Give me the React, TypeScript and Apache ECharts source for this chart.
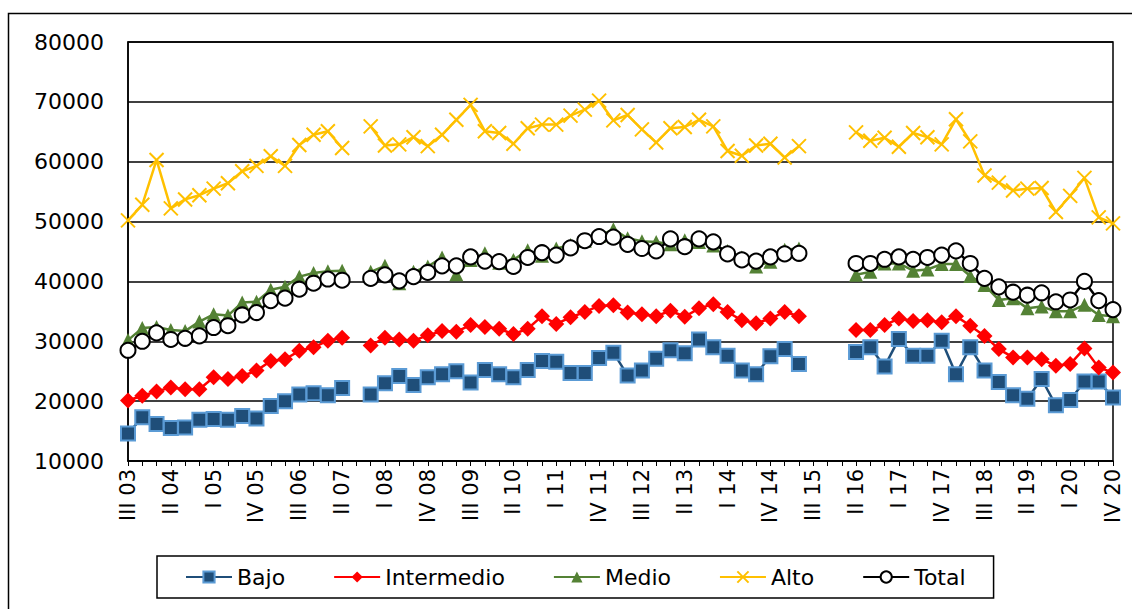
import React, { useEffect, useRef } from "react";
import * as echarts from "echarts";

const romans = ["I", "II", "III", "IV"];
const categories: string[] = [];
for (let i = 0; i < 70; i++) {
  const q = (2 + i) % 4;
  const y = 2003 + Math.floor((2 + i) / 4);
  categories.push(romans[q] + " " + String(y % 100).padStart(2, "0"));
}

const N = null;
const bajo = [14600, 17300, 16200, 15500, 15600, 16900, 17000, 16900, 17500, 17100, 19200, 20000, 21100, 21300, 21000, 22200, N,
  21100, 23000, 24200, 22700, 24000, 24500, 25000, 23100, 25200, 24500, 24000, 25200, 26700, 26600, 24700, 24700, 27200, 28100,
  24300, 25100, 27100, 28500, 28000, 30300, 29000, 27600, 25100, 24500, 27500, 28700, 26200, N, N, N,
  28200, 29000, 25800, 30400, 27600, 27600, 30100, 24500, 29000, 25100, 23200, 21000, 20400, 23700, 19300, 20200, 23300, 23300, 20600];
const intermedio = [20100, 20900, 21600, 22300, 22000, 22000, 24000, 23700, 24200, 25100, 26700, 27000, 28400, 29000, 30100, 30600, N,
  29300, 30600, 30300, 30100, 31000, 31700, 31600, 32700, 32400, 32100, 31200, 32100, 34200, 32900, 34000, 34900, 35900, 36000,
  34800, 34500, 34200, 35100, 34100, 35500, 36200, 34900, 33500, 33000, 33800, 34900, 34200, N, N, N,
  31900, 31900, 32700, 33800, 33400, 33500, 33200, 34200, 32600, 30900, 28700, 27300, 27300, 27000, 25900, 26200, 28800, 25600, 24800];
const medio = [30200, 32200, 32400, 31900, 31700, 33300, 34500, 34300, 36500, 36600, 38600, 39100, 40800, 41400, 41700, 41800, N,
  41600, 42600, 39700, 41600, 42500, 44000, 41200, 43600, 44700, 43100, 43600, 45200, 44300, 45500, 46100, 46800, 47600, 48700,
  47200, 46700, 46600, 46200, 46900, 46600, 46000, 45100, 44000, 42500, 43300, 45300, 45500, N, N, N,
  41100, 41600, 43000, 43000, 41800, 42000, 42900, 42900, 40900, 39400, 36900, 37200, 35500, 35800, 35000, 35000, 36100, 34400, 34200];
const alto = [50200, 52800, 60300, 52200, 53700, 54400, 55500, 56400, 58400, 59300, 60900, 59300, 62800, 64500, 65100, 62300, N,
  65900, 62700, 62900, 64100, 62600, 64500, 67000, 69500, 65100, 64800, 63000, 65600, 66200, 66200, 67700, 68700, 70200, 66900,
  67800, 65400, 63200, 65600, 65800, 67000, 65900, 61800, 61000, 62700, 63000, 60700, 62600, N, N, N,
  64900, 63500, 64000, 62500, 64800, 64100, 62900, 67100, 63400, 57700, 56500, 55200, 55500, 55600, 51600, 54300, 57300, 50700, 49700];
const total = [28500, 30000, 31400, 30300, 30500, 30900, 32300, 32600, 34400, 34800, 36800, 37200, 38700, 39700, 40400, 40200, N,
  40500, 41100, 40100, 40800, 41500, 42600, 42600, 44100, 43400, 43300, 42500, 44000, 44800, 44400, 45600, 46800, 47500, 47400,
  46200, 45500, 45100, 47100, 45800, 47100, 46600, 44600, 43600, 43400, 44100, 44600, 44700, N, N, N,
  43000, 43000, 43700, 44100, 43700, 44000, 44400, 45100, 43000, 40500, 39100, 38200, 37700, 38100, 36600, 36900, 40000, 36800, 35300];

const FONT = "DejaVu Sans";

export default function App() {
  const ref = useRef<HTMLDivElement>(null);
  useEffect(() => {
    const chart = echarts.init(ref.current!, null, { renderer: "svg" });
    const lineW = 2.5;
    chart.setOption({
      animation: false,
      backgroundColor: "#fff",
      textStyle: { fontFamily: FONT, color: "#000" },
      graphic: [
        {
          type: "rect",
          shape: { x: 8.5, y: 13.5, width: 1300, height: 800 },
          style: { fill: "none", stroke: "#000", lineWidth: 1.5 },
          silent: true,
        },
      ],
      grid: {
        left: 128,
        top: 42,
        right: 19,
        bottom: 148,
        show: true,
        borderColor: "#000",
        borderWidth: 1.5,
        backgroundColor: "transparent",
      },
      legend: {
        left: 157,
        top: 556,
        padding: [10, 28, 10, 28],
        borderColor: "#000",
        borderWidth: 1.5,
        itemGap: 48,
        itemWidth: 46,
        itemHeight: 14,
        textStyle: { fontFamily: FONT, fontSize: 22, color: "#000" },
        data: ["Bajo", "Intermedio", "Medio", "Alto", "Total"],
      },
      xAxis: {
        type: "category",
        data: categories,
        boundaryGap: false,
        axisLine: { lineStyle: { color: "#000", width: 1.5 } },
        axisTick: { show: true, interval: 0, length: 5, lineStyle: { color: "#000", width: 1 } },
        axisLabel: {
          interval: 2,
          rotate: 90,
          fontSize: 21,
          fontFamily: FONT,
          color: "#000",
          margin: 8,
        },
        splitLine: { show: false },
      },
      yAxis: {
        type: "value",
        min: 10000,
        max: 80000,
        interval: 10000,
        axisLine: { show: true, lineStyle: { color: "#000", width: 1.5 } },
        axisTick: { show: false },
        axisLabel: {
          fontSize: 22,
          fontFamily: FONT,
          color: "#000",
          margin: 24,
          formatter: (v: number) => String(v),
        },
        splitLine: { lineStyle: { color: "#000", width: 1.5 } },
      },
      series: [
        {
          name: "Bajo",
          type: "line",
          data: bajo,
          symbol: "rect",
          symbolSize: 14,
          showAllSymbol: true,
          lineStyle: { color: "#1F4E79", width: lineW },
          itemStyle: { color: "#1F4E79", borderColor: "#5B9BD5", borderWidth: 2 },
        },
        {
          name: "Intermedio",
          type: "line",
          data: intermedio,
          symbol: "diamond",
          symbolSize: 16,
          showAllSymbol: true,
          lineStyle: { color: "#FF0000", width: lineW },
          itemStyle: { color: "#FF0000" },
        },
        {
          name: "Medio",
          type: "line",
          data: medio,
          symbol: "triangle",
          symbolSize: 14,
          showAllSymbol: true,
          lineStyle: { color: "#548235", width: lineW },
          itemStyle: { color: "#548235" },
        },
        {
          name: "Alto",
          type: "line",
          data: alto,
          symbol: "path://M0 0L10 10M10 0L0 10",
          symbolSize: 14,
          showAllSymbol: true,
          lineStyle: { color: "#FFC000", width: lineW },
          itemStyle: { color: "#FFC000", borderColor: "#FFC000", borderWidth: 2 },
        },
        {
          name: "Total",
          type: "line",
          data: total,
          symbol: "circle",
          symbolSize: 15,
          showAllSymbol: true,
          lineStyle: { color: "#000", width: lineW },
          itemStyle: { color: "#fff", borderColor: "#000", borderWidth: 2 },
        },
      ],
    });
    return () => chart.dispose();
  }, []);
  return (
    <div
      ref={ref}
      style={{ position: "absolute", left: 0, top: 0, width: 1132, height: 609 }}
    />
  );
}
